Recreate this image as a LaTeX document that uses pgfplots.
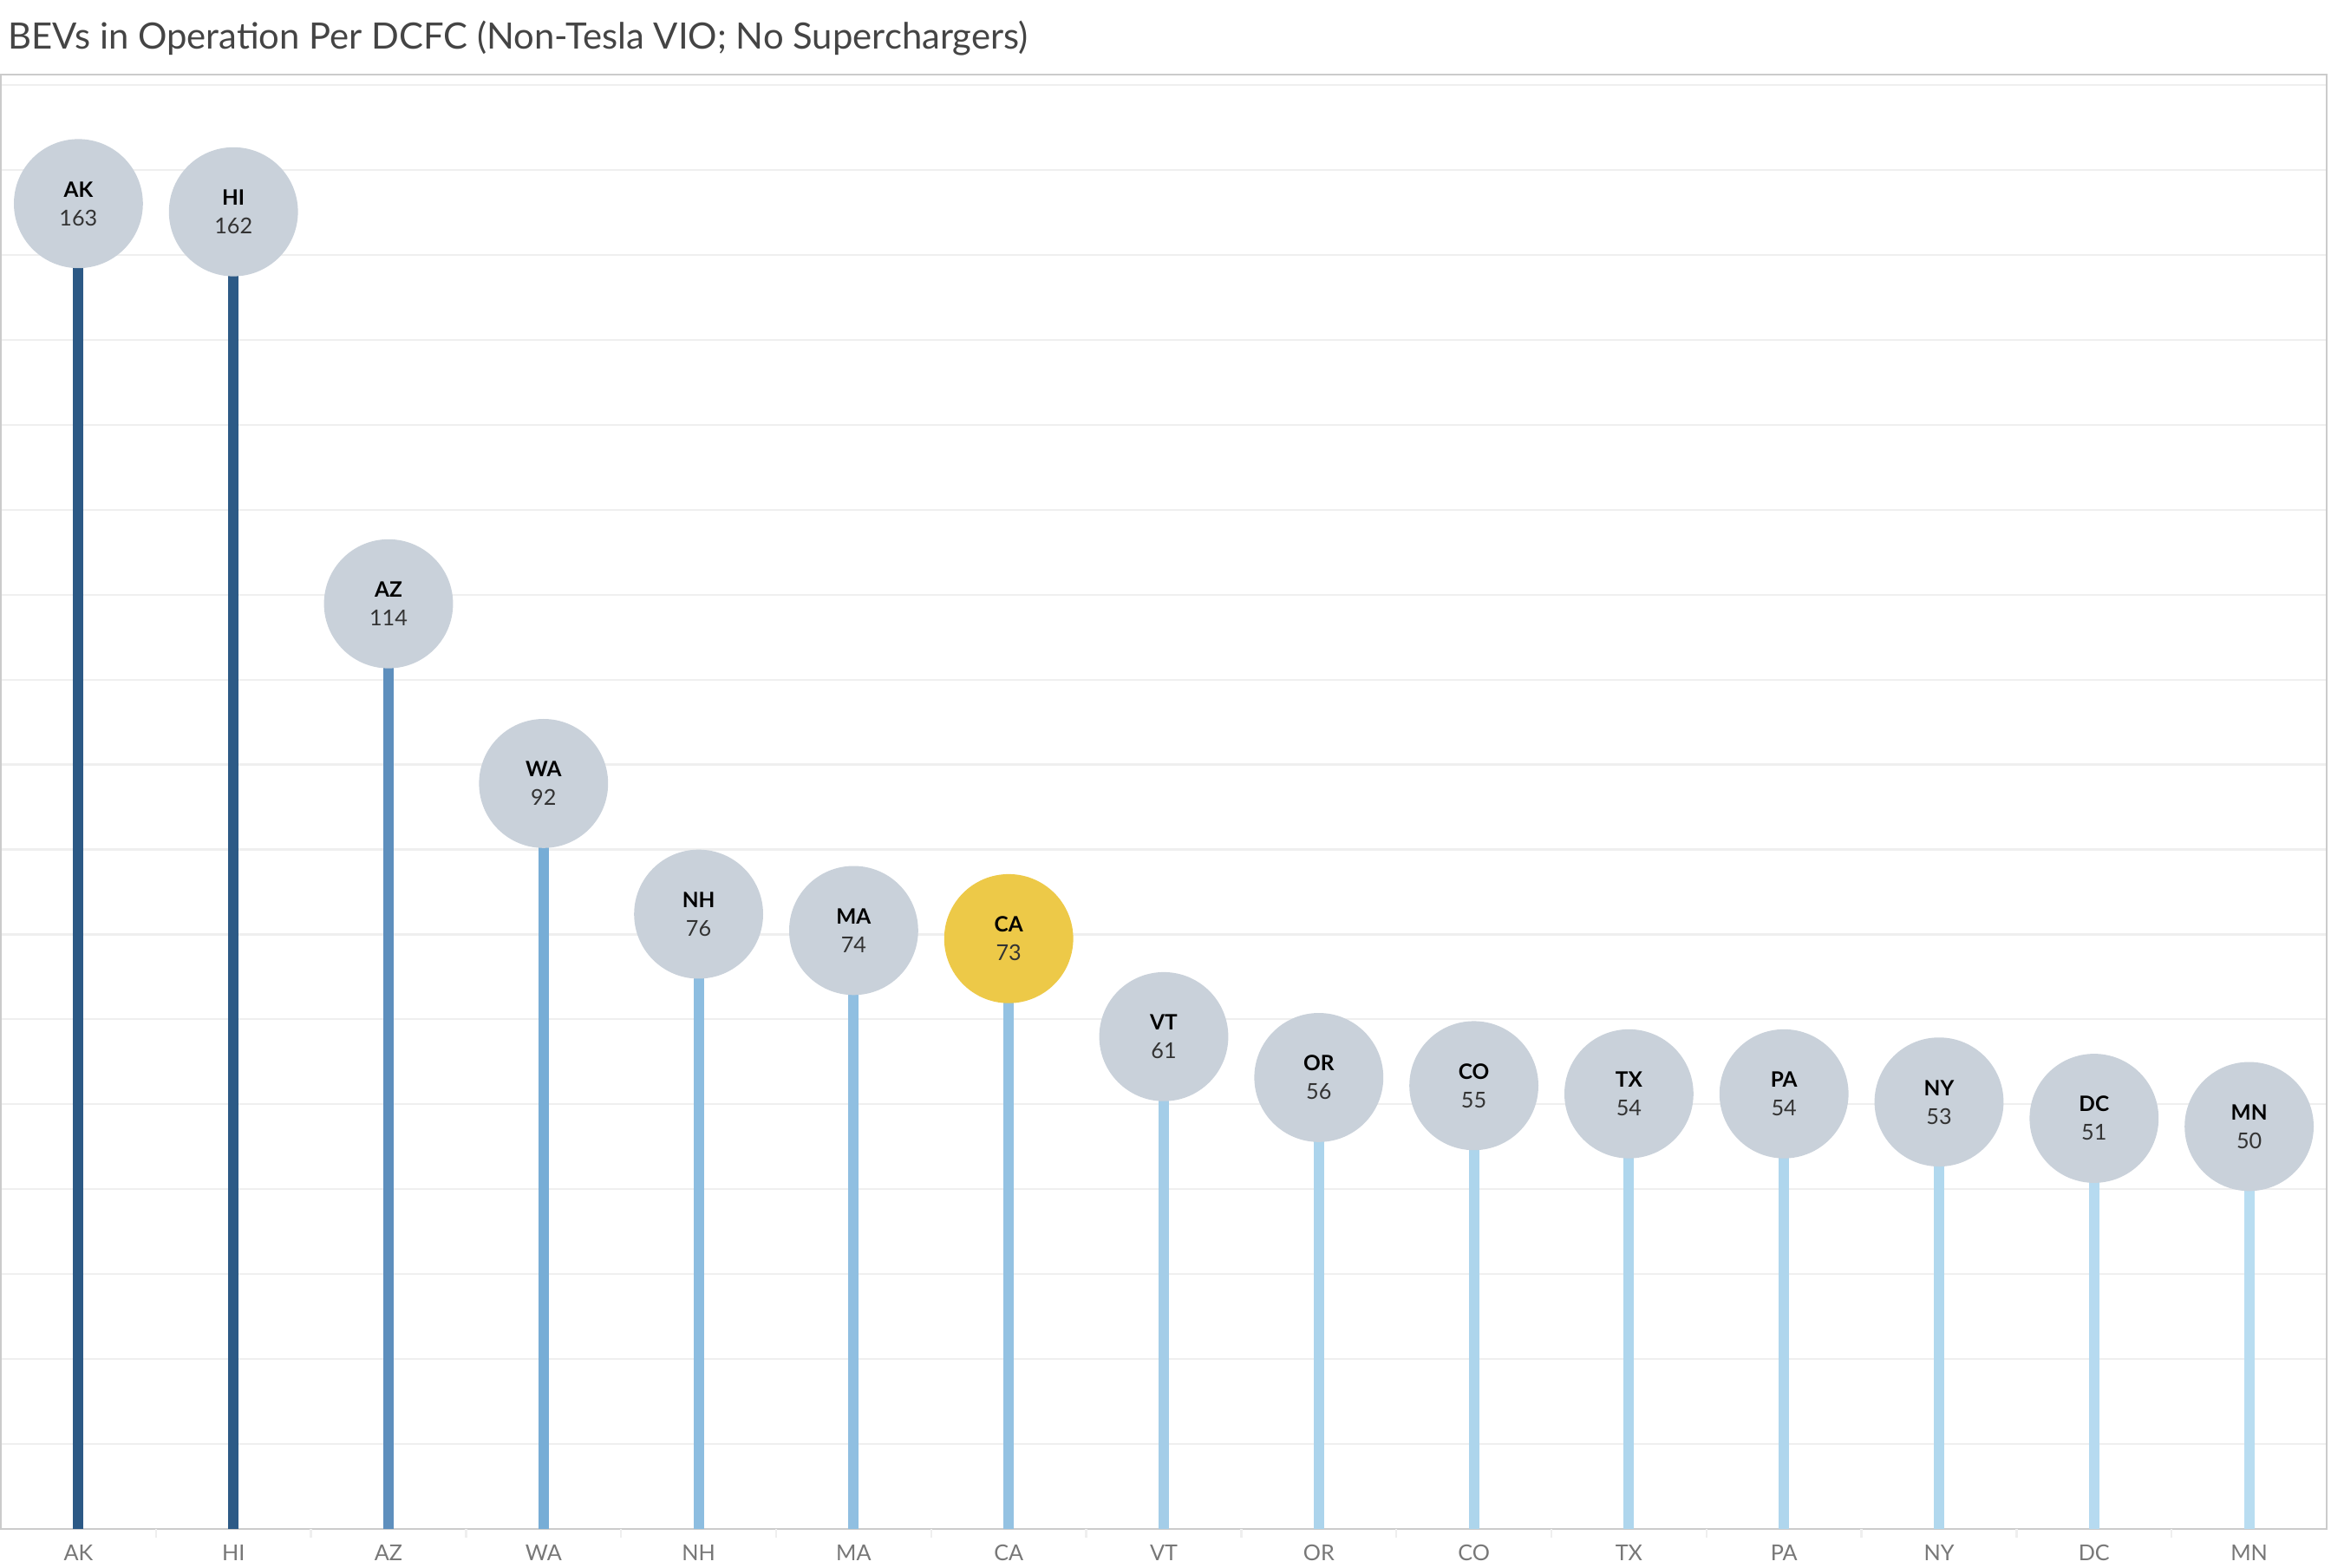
\documentclass[border=0pt]{standalone}
\usepackage{pgfplots}
\pgfplotsset{compat=1.18}
\usepackage{pgfplotstable}
\usepackage{fontspec}
\setmainfont{Lato}
\definecolor{bubble}{HTML}{C9D1DA}
\definecolor{cayellow}{HTML}{EDC948}
\definecolor{gridc}{HTML}{EFEFEF}
\definecolor{framec}{HTML}{CBCBCB}
\definecolor{tickc}{HTML}{777777}
\definecolor{titlec}{HTML}{444444}
\definecolor{valc}{HTML}{333333}
\definecolor{cAK}{HTML}{2C5985}
\definecolor{cHI}{HTML}{2D5A86}
\definecolor{cAZ}{HTML}{5E8FBD}
\definecolor{cWA}{HTML}{77ADD6}
\definecolor{cNH}{HTML}{8DBDE0}
\definecolor{cMA}{HTML}{90BFE1}
\definecolor{cCA}{HTML}{94C2E2}
\definecolor{cVT}{HTML}{A4CDE8}
\definecolor{cOR}{HTML}{ACD4EC}
\definecolor{cCO}{HTML}{ADD5EC}
\definecolor{cTX}{HTML}{AFD6ED}
\definecolor{cPA}{HTML}{AFD6ED}
\definecolor{cNY}{HTML}{B1D8EE}
\definecolor{cDC}{HTML}{B6DAF0}
\definecolor{cMN}{HTML}{B9DDF1}
\pgfplotstableread{
x v st
0 163 AK
1 162 HI
2 114 AZ
3 92 WA
4 76 NH
5 74 MA
6 73 CA
7 61 VT
8 56 OR
9 55 CO
10 54 TX
11 54 PA
12 53 NY
13 51 DC
14 50 MN
}\alldata
\pgfplotstableread{
x v st
0 163 AK
1 162 HI
2 114 AZ
3 92 WA
4 76 NH
5 74 MA
7 61 VT
8 56 OR
9 55 CO
10 54 TX
11 54 PA
12 53 NY
13 51 DC
14 50 MN
}\grayb
\pgfplotstableread{
x v st
6 73 CA
}\yellowb
\begin{document}
\begin{tikzpicture}
\useasboundingbox (0,0) rectangle (672pt,452pt);
\node[anchor=base west, font=\fontsize{10.45}{12}\selectfont, text=titlec, inner sep=0pt] at (2.2pt,437.8pt) {BEVs in Operation Per DCFC (Non-Tesla VIO; No Superchargers)};
\begin{axis}[
  at={(0.25pt,11.25pt)}, anchor=south west,
  scale only axis, width=670.5pt, height=419.25pt,
  xmin=-0.5, xmax=14.5, ymin=0.72, ymax=178.8,
  axis line style={draw=framec, line width=0.55pt},
  xtick={0,...,14},
  xticklabels={AK,HI,AZ,WA,NH,MA,CA,VT,OR,CO,TX,PA,NY,DC,MN},
  xtick pos=bottom,
  major tick length=0pt,
  xticklabel style={anchor=center, yshift=-6.9pt, font=\fontsize{6.3}{7}\selectfont, text=tickc, inner sep=0pt},
  extra x ticks={0.5,1.5,...,13.5},
  extra x tick labels={},
  extra x tick style={major tick length=2.6pt, tick align=outside, tick style={draw=gridc, line width=0.6pt}},
  ytick={11.12,21.52,31.92,42.32,52.72,63.12,73.52,83.92,94.32,104.72,115.12,125.52,135.92,146.32,156.72,167.12,177.52},
  yticklabels={},
  ymajorgrids,
  grid style={draw=gridc, line width=0.55pt},
  every axis plot/.append style={line cap=butt},
]
\addplot[ycomb, cAK, line width=3pt] coordinates {(0,163)};
\addplot[ycomb, cHI, line width=3pt] coordinates {(1,162)};
\addplot[ycomb, cAZ, line width=3pt] coordinates {(2,114)};
\addplot[ycomb, cWA, line width=3pt] coordinates {(3,92)};
\addplot[ycomb, cNH, line width=3pt] coordinates {(4,76)};
\addplot[ycomb, cMA, line width=3pt] coordinates {(5,74)};
\addplot[ycomb, cCA, line width=3pt] coordinates {(6,73)};
\addplot[ycomb, cVT, line width=3pt] coordinates {(7,61)};
\addplot[ycomb, cOR, line width=3pt] coordinates {(8,56)};
\addplot[ycomb, cCO, line width=3pt] coordinates {(9,55)};
\addplot[ycomb, cTX, line width=3pt] coordinates {(10,54)};
\addplot[ycomb, cPA, line width=3pt] coordinates {(11,54)};
\addplot[ycomb, cNY, line width=3pt] coordinates {(12,53)};
\addplot[ycomb, cDC, line width=3pt] coordinates {(13,51)};
\addplot[ycomb, cMN, line width=3pt] coordinates {(14,50)};
% bubbles
\addplot[only marks, mark=*, mark size=18.4pt, color=bubble] table[x=x, y=v] {\grayb};
\addplot[only marks, mark=*, mark size=18.4pt, color=cayellow] table[x=x, y=v] {\yellowb};
% state labels
\addplot[only marks, mark=none, draw=none,
  point meta=explicit symbolic,
  nodes near coords, nodes near coords align=center,
  every node near coord/.append style={anchor=center, yshift=4.1pt, inner sep=0pt, text=black, font=\fontsize{6.1}{7}\selectfont\bfseries}]
  table[x=x, y=v, meta=st] {\alldata};
% value labels
\addplot[only marks, mark=none, draw=none,
  point meta=explicit symbolic,
  nodes near coords, nodes near coords align=center,
  every node near coord/.append style={anchor=center, yshift=-4.1pt, inner sep=0pt, text=valc, font=\fontsize{6.3}{7}\selectfont}]
  table[x=x, y=v, meta=v] {\alldata};
\end{axis}
\end{tikzpicture}
\end{document}
